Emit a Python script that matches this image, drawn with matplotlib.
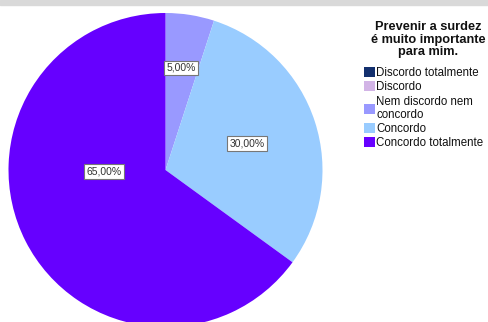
import matplotlib.pyplot as plt
from matplotlib.patches import Patch, Rectangle

plt.rcParams['font.family'] = ['Liberation Sans', 'DejaVu Sans']

categories = ['Discordo totalmente', 'Discordo', 'Nem discordo nem\nconcordo',
              'Concordo', 'Concordo totalmente']
values = [0, 0, 5, 30, 65]
colors = ['#13306e', '#d2b4e6', '#9999ff', '#99ccff', '#6600ff']
legend_title = 'Prevenir a surdez\né muito importante\npara mim.'

# label spots inside the pie (SPSS puts them its own way)
label_pos = [(0.10, 0.65), (0.52, 0.17), (-0.39, -0.01)]

fig = plt.figure(figsize=(4.88, 3.22), dpi=100)
fig.patches.append(Rectangle((0, 1 - 5 / 322), 1, 5 / 322, transform=fig.transFigure,
                             color='#d9d9d9', zorder=0))

ax = fig.add_axes([8.5 / 488, -5 / 322, 314 / 488, 314 / 322])
shown = [(v, c) for v, c in zip(values, colors) if v > 0]
wedges, _ = ax.pie([v for v, c in shown], colors=[c for v, c in shown],
                   startangle=90, counterclock=False, radius=1,
                   wedgeprops=dict(linewidth=0))
ax.set_xlim(-1, 1)
ax.set_ylim(-1, 1)

for (v, c), (x, y) in zip(shown, label_pos):
    ax.text(x, y, ('%.2f%%' % v).replace('.', ','), ha='center', va='center',
            fontsize=7.5, color='#333333',
            bbox=dict(boxstyle='square,pad=0.22', fc='white', ec='#777777', lw=0.8))

# legend title as its own text, to get the spacing SPSS uses
fig.text(428 / 488, 1 - 21 / 322, legend_title, ha='center', va='top',
         fontsize=9.2, fontweight='bold', linespacing=1.08, color='#111111')

handles = [Patch(facecolor=c, edgecolor='none') for c in colors]
leg = fig.legend(handles, categories, loc='upper left', bbox_to_anchor=(364 / 488, 1 - 67 / 322),
                 frameon=False, fontsize=8.3,
                 handlelength=0.95, handleheight=0.95, handletextpad=0.1,
                 labelspacing=0.2, borderpad=0, borderaxespad=0)
for t in leg.get_texts():
    t.set_linespacing(1.1)
    t.set_color('#111111')

fig.savefig('out.png', dpi=100)
